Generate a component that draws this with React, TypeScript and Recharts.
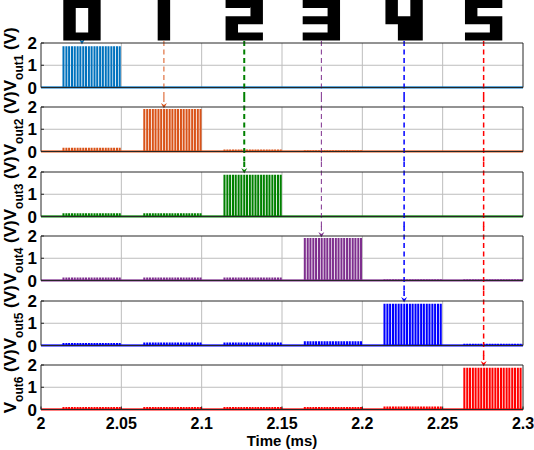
import React from 'react';
import { LineChart, Line, XAxis, YAxis, ReferenceLine } from 'recharts';

// output names and colours (top panel first)
const OUTPUTS = ['out1', 'out2', 'out3', 'out4', 'out5', 'out6'];
const COLORS = ['#0072BD', '#D95319', '#008000', '#7E2F8E', '#0000FF', '#FF0000'];

const X_TICKS = [2, 2.05, 2.1, 2.15, 2.2, 2.25, 2.3];
const X_TICK_LABELS = ['2', '2.05', '2.1', '2.15', '2.2', '2.25', '2.3'];
const Y_TICKS = [0, 1, 2];

// start of each input window (ms)
const WINDOW_STARTS = [2.0138, 2.0641, 2.114, 2.164, 2.2136, 2.2633];
// spike times inside a window (us after the window start)
const SPIKE_OFFSETS_US = [0, 1.8, 3.5, 5.3, 7.0, 8.8, 10.5, 12.3, 14.0, 15.8, 17.5, 19.3, 21.0, 22.8, 24.5, 26.3, 28.0, 29.8, 31.5, 33.3, 35.0];
// spike height (V) of each output in each window
const AMP_OUT1 = [1.82, 0, 0, 0, 0, 0];
const AMP_OUT2 = [0.14, 1.88, 0.06, 0.03, 0, 0];
const AMP_OUT3 = [0.12, 0.12, 1.85, 0, 0, 0];
const AMP_OUT4 = [0.1, 0.1, 0.1, 1.88, 0.03, 0.03];
const AMP_OUT5 = [0.08, 0.1, 0.1, 0.16, 1.85, 0.05];
const AMP_OUT6 = [0.08, 0.08, 0.08, 0.08, 0.1, 1.85];
const AMPLITUDES = [AMP_OUT1, AMP_OUT2, AMP_OUT3, AMP_OUT4, AMP_OUT5, AMP_OUT6];

// digit pictures and the time their arrow points at
const DIGITS = ['0', '1', '2', '3', '4', '5'];
const ARROW_X = [2.0255, 2.0765, 2.1265, 2.1745, 2.226, 2.2755];
const ARROW_W = [1, 1, 2, 1, 1.5, 1.5];

const GLYPHS: Record<string, string[]> = {
  '0': ['###', '#.#', '#.#', '#.#', '###'],
  '1': ['.#.', '.#.', '.#.', '.#.', '.#.'],
  '2': ['###', '..#', '###', '#..', '###'],
  '3': ['###', '..#', '###', '..#', '###'],
  '4': ['#.#', '#.#', '###', '.##', '.##'],
  '5': ['###', '#..', '###', '..#', '###'],
};

const PULSE_W = 0.0004;
const FONT = '"Liberation Sans", Arial, Helvetica, sans-serif';
const GRID = '#bdbdbd';

// layout
const W = 534;
const PLOT_L = 41;
const PLOT_R = 523;
const TOP0 = 43;
const PITCH = 64.4;
const PANEL_H = 44.5;
const PAD = 10;
const PX_PER_V = PANEL_H / 2;
const CELL_W = 12.45;
const CELL_H = 8.1;

const toPx = (t: number) => PLOT_L + ((t - 2) / 0.3) * (PLOT_R - PLOT_L);

function buildSeries(amps: number[]) {
  const pts: { t: number; v: number }[] = [{ t: 2, v: 0 }];
  amps.forEach((a, w) => {
    if (a <= 0) return;
    SPIKE_OFFSETS_US.forEach((off) => {
      const t = WINDOW_STARTS[w] + off / 1000;
      if (t + PULSE_W > 2.3) return;
      pts.push({ t, v: 0 }, { t, v: a }, { t: t + PULSE_W, v: a }, { t: t + PULSE_W, v: 0 });
    });
  });
  pts.push({ t: 2.3, v: 0 });
  return pts;
}

const arrowShape = (color: string, width: number, head: boolean) => (p: any) => {
  const { x1, y1, x2, y2 } = p;
  return (
    <g>
      <line x1={x1} y1={y1} x2={x2} y2={head ? y2 - 3 : y2} stroke={color} strokeWidth={width} strokeDasharray="5 3.5" />
      {head && <path d={`M${x2},${y2} L${x2 - 3},${y2 - 5.5} L${x2},${y2 - 3.5} L${x2 + 3},${y2 - 5.5} Z`} fill={color} />}
    </g>
  );
};

const yLabel = (k: number) => (props: any) => {
  const vb = props.viewBox || { y: 0, height: PANEL_H };
  const cy = vb.y + vb.height / 2 - 6;
  return (
    <text transform={`translate(15.5,${cy}) rotate(-90)`} textAnchor="middle" fontFamily={FONT} fontWeight="bold" fontSize={17} fill="#000">
      <tspan>V</tspan>
      <tspan fontSize={12} dy={7}>{OUTPUTS[k]}</tspan>
      <tspan dy={-7}> (V)</tspan>
    </text>
  );
};

function Panel({ k }: { k: number }) {
  const last = k === OUTPUTS.length - 1;
  const top = TOP0 + k * PITCH - PAD;
  const height = last ? 450 - top : PANEL_H + 2 * PAD;
  const data = buildSeries(AMPLITUDES[k]);
  const color = COLORS[k];
  const yAbove = k === 0 ? 2 + (TOP0 - 41) / PX_PER_V : 2 + PAD / PX_PER_V;
  const yBelow = -PAD / PX_PER_V;
  const axisColor = { stroke: '#262626' };
  return (
    <div style={{ position: 'absolute', left: 0, top }}>
      <LineChart width={W} height={height} data={data}
        margin={{ top: PAD - 1, right: W - PLOT_R - 1, bottom: height - PAD - PANEL_H - 1, left: 0 }}>
        <XAxis dataKey="t" type="number" domain={[2, 2.3]} ticks={X_TICKS} interval={0} allowDataOverflow
          height={1} tickSize={-3} tickMargin={11}
          tickFormatter={(v: number) => X_TICK_LABELS[X_TICKS.indexOf(v)] ?? String(v)}
          axisLine={axisColor} tickLine={axisColor}
          tick={last ? { fontSize: 16, fontWeight: 'bold', fill: '#000', fontFamily: FONT } : false}
          label={last ? { value: 'Time (ms)', position: 'bottom', offset: 25, fontSize: 15, fontWeight: 'bold', fill: '#000', fontFamily: FONT } : undefined}
        />
        <XAxis xAxisId="top" orientation="top" type="number" domain={[2, 2.3]} ticks={X_TICKS} interval={0} allowDataOverflow
          height={1} tickSize={-3} tick={false} axisLine={axisColor} tickLine={axisColor} />
        <YAxis domain={[0, 2]} ticks={Y_TICKS} interval={0} allowDataOverflow width={41} tickSize={-3} tickMargin={7}
          axisLine={axisColor} tickLine={axisColor}
          tick={{ fontSize: 17, fontWeight: 'bold', fill: '#000', fontFamily: FONT }}
          label={yLabel(k)} />
        <YAxis yAxisId="r" orientation="right" domain={[0, 2]} ticks={Y_TICKS} interval={0} allowDataOverflow width={1}
          tickSize={-3} tick={false} axisLine={axisColor} tickLine={axisColor} />
        {X_TICKS.slice(1, -1).map((x) => (
          <ReferenceLine key={`gx${x}`} x={x} stroke={GRID} strokeWidth={1} />
        ))}
        <ReferenceLine y={1} stroke={GRID} strokeWidth={1} />
        <Line type="linear" dataKey="v" stroke={color} strokeWidth={1.4} dot={false} isAnimationActive={false} />
        <ReferenceLine y={0} stroke={color} strokeWidth={2} />
        {ARROW_X.map((x, j) => j < k ? null : (
          <ReferenceLine key={j} ifOverflow="visible"
            segment={[{ x, y: yAbove }, { x, y: j === k ? 1.93 : yBelow }]}
            shape={arrowShape(COLORS[j], ARROW_W[j], j === k)} />
        ))}
      </LineChart>
    </div>
  );
}

function Digits() {
  return (
    <svg width={W} height={42} style={{ position: 'absolute', left: 0, top: 0 }}>
      {DIGITS.map((d, i) => {
        const x0 = toPx(ARROW_X[i]) - 1.5 * CELL_W;
        let path = '';
        GLYPHS[d].forEach((row, r) => {
          row.split('').forEach((c, col) => {
            if (c !== '#') return;
            const x = x0 + col * CELL_W;
            const y = r * CELL_H;
            path += `M${x},${y}h${CELL_W}v${CELL_H}h${-CELL_W}Z`;
          });
        });
        return <path key={d} d={path} fill="#000" />;
      })}
    </svg>
  );
}

export default function App() {
  return (
    <div style={{ position: 'absolute', left: 0, top: 0, width: W, height: 450, background: '#fff', overflow: 'hidden' }}>
      <style>{'.recharts-surface{overflow:visible}'}</style>
      {OUTPUTS.map((_, k) => <Panel key={k} k={k} />)}
      <Digits />
    </div>
  );
}
